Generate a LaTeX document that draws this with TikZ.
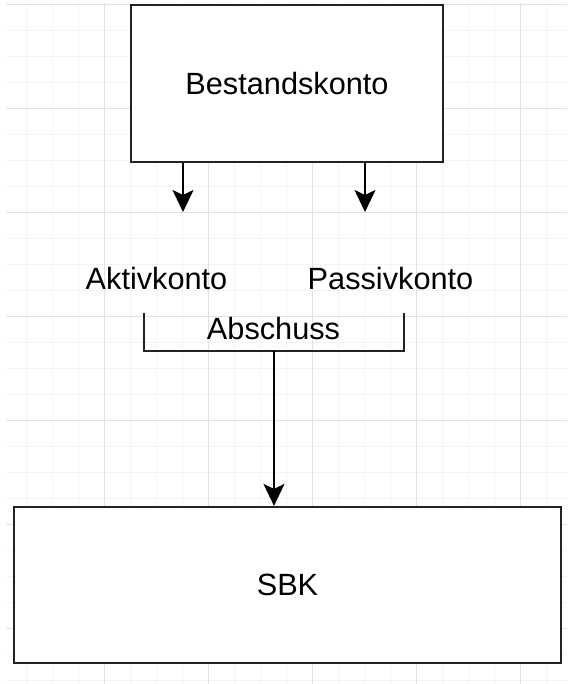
\documentclass[tikz,border=0pt]{standalone}
\usepackage{fontspec}
\setmainfont{Liberation Sans}
\usetikzlibrary{arrows.meta,positioning}

\definecolor{gridmajor}{HTML}{E2E2E2}
\definecolor{gridminor}{HTML}{F4F4F4}
\definecolor{edge}{HTML}{222222}

\begin{document}
\begin{tikzpicture}[
    x=1pt, y=-1pt,
    konto/.style={draw=edge, line width=2.2pt, fill=white, inner sep=0pt, font=\fontsize{30.7pt}{36pt}\selectfont},
    lbl/.style={inner sep=0pt, font=\fontsize{30.7pt}{36pt}\selectfont},
    arr/.style={-{Stealth[length=22pt, width=21pt, inset=5pt]}, line width=2pt, black},
    bracket/.style={draw=edge, line width=2pt},
]
\useasboundingbox (0,0) rectangle (584,684);
\fill[white] (0,0) rectangle (584,684);

% Background grid
\begin{scope}
\clip (6,4) rectangle (567,684);
\foreach \gx in {0.5,26.5,...,567} \draw[gridminor, line width=1pt] (\gx,0) -- (\gx,684);
\foreach \gy in {4.5,30.5,...,684} \draw[gridminor, line width=1pt] (0,\gy) -- (584,\gy);
\foreach \gx in {104.5,208.5,...,567} \draw[gridmajor, line width=1pt] (\gx,0) -- (\gx,684);
\foreach \gy in {4.5,108.5,...,684} \draw[gridmajor, line width=1pt] (0,\gy) -- (584,\gy);
\end{scope}

% Boxes
\node[konto, minimum width=312pt, minimum height=157pt] (bestand) at (287,83.5) {Bestandskonto};
\node[konto, minimum width=547pt, minimum height=156pt] (sbk) at (287.5,585) {SBK};

% Labels
\node[lbl] (aktiv) at (156.5,279) {Aktivkonto};
\node[lbl] (passiv) at (390.5,279) {Passivkonto};
\node[lbl] (abschluss) at (273.5,329) {Abschuss};

% Arrow ends and bracket corners
\coordinate (aktivtip) at (183,212);
\coordinate (passivtip) at (365,212);
\coordinate (brl) at (144,313);
\coordinate (brr) at (404,313);
\coordinate (brmid) at (274,351);

% Arrows from Bestandskonto
\draw[arr] (bestand.south -| aktivtip) -- (aktivtip);
\draw[arr] (bestand.south -| passivtip) -- (passivtip);

% Bracket and arrow to SBK
\draw[bracket] (brl) |- (brmid) -| (brr);
\draw[arr] (brmid) -- (brmid |- sbk.north);

\end{tikzpicture}
\end{document}
